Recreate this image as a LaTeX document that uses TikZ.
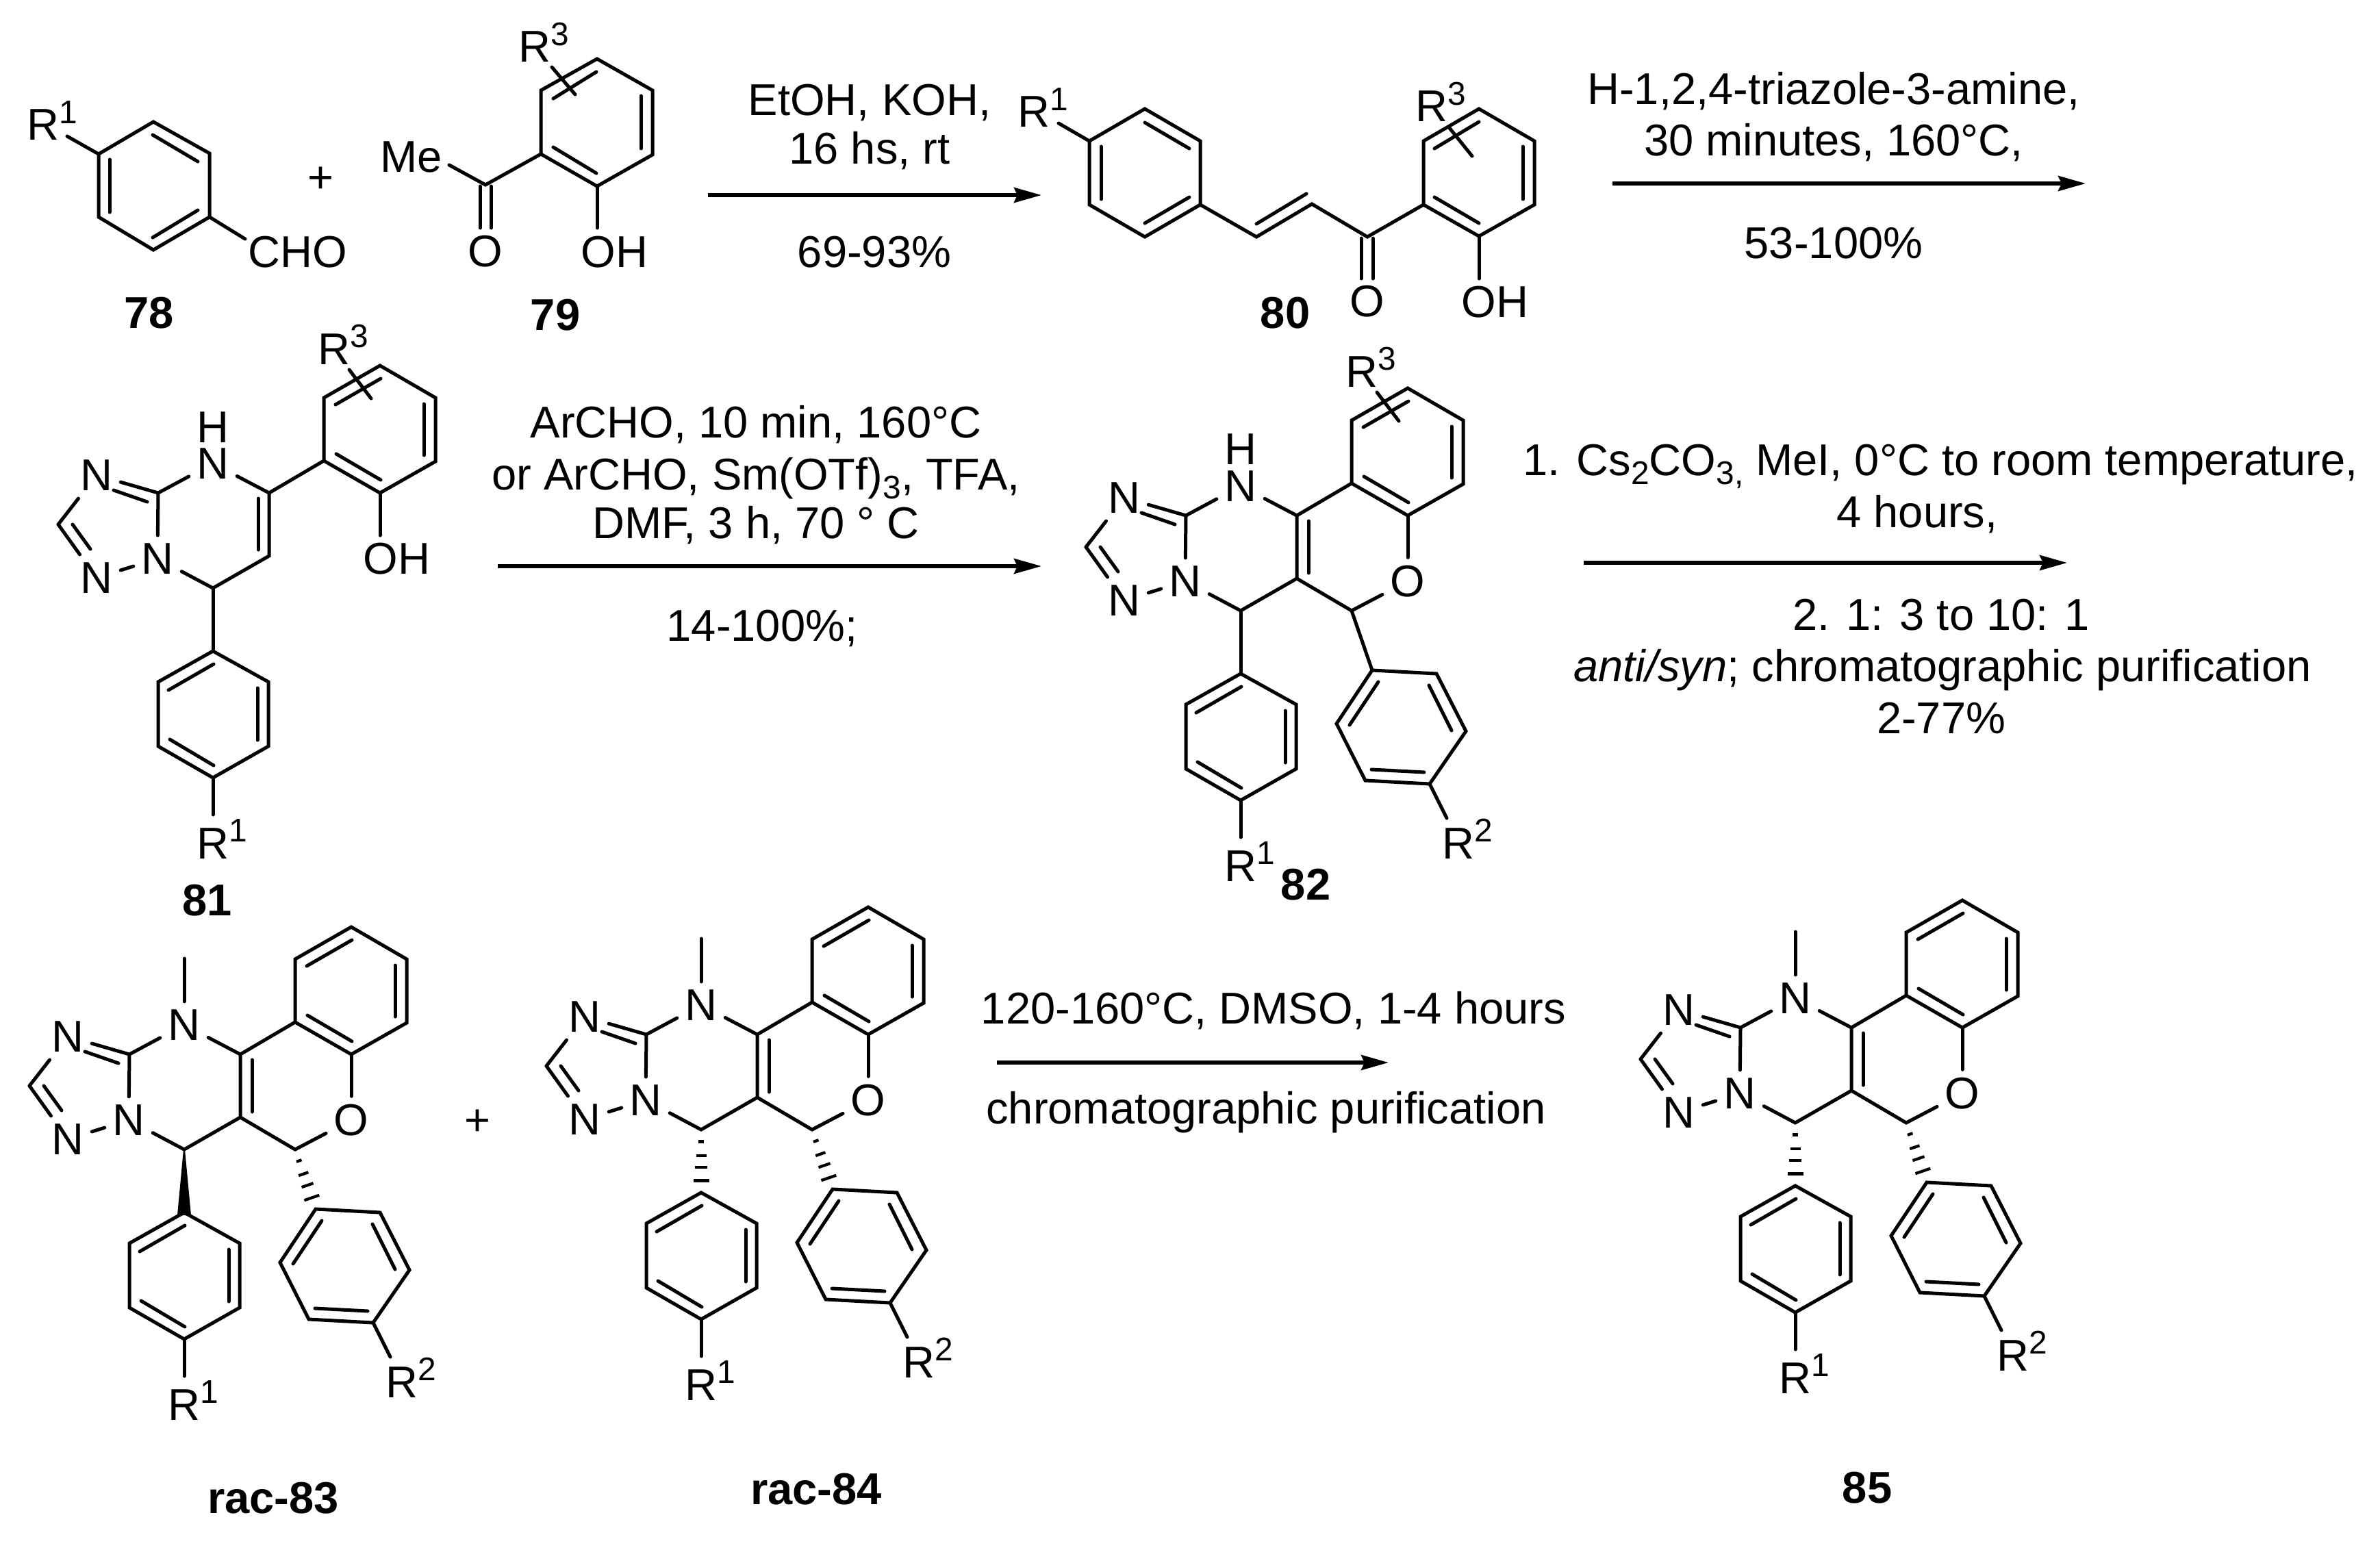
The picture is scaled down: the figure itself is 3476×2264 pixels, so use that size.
\documentclass[tikz,border=0pt]{standalone}
\usepackage{fontspec}
\setmainfont{Liberation Sans}
\usetikzlibrary{arrows.meta,calc}

\newcommand{\Rsup}[1]{R\raisebox{7.1pt}{\fontsize{13.6}{13.6}\selectfont #1}}
\newcommand{\chemsub}[1]{\raisebox{-3.7pt}{\fontsize{13.6}{13.6}\selectfont #1}}

\tikzset{
	bond/.style={line width=0.5mm, line cap=round},
	hashline/.style={line width=0.42mm},
	rxarrow/.style={line width=0.55mm, -{Stealth[length=4mm,width=2.2mm,inset=0.5mm]}},
	atom/.style={inner sep=1.1mm, font=\fontsize{18.5}{22}\selectfont},
	lab/.style={inner sep=0pt, anchor=base west, font=\fontsize{18.5}{22}\selectfont},
	rxtext/.style={inner sep=0pt, anchor=base, font=\fontsize{18.5}{22}\selectfont},
	numlab/.style={inner sep=0pt, font=\fontsize{18.5}{22}\selectfont\bfseries}
}

% Triazole and pyrimidine rings, written at the position of 85
\newcommand{\triazcore}[1]{
	\coordinate (#1c8a) at (2542,1501);
	\coordinate (#1c2) at (2396,1547);
	\coordinate (#1c7) at (2622,1640);
	\coordinate (#1c5) at (2704,1501);
	\coordinate (#1c6) at (2704,1593);
	\node[atom] (#1n1) at (2452,1475) {N};
	\node[atom] (#1n3) at (2452,1625) {N};
	\node[atom] (#1n8) at (2541,1597) {N};
	\node[atom] (#1n4) at (2622,1458) {N};
	\draw[bond] (#1c8a) -- (#1n1);
	\draw[bond] (2477,1497) -- (2526,1514);
	\draw[bond] (#1n1) -- (#1c2);
	\draw[bond] (#1c2) -- (#1n3);
	\draw[bond] (2417,1547) -- (2443,1583);
	\draw[bond] (#1n3) -- (#1n8);
	\draw[bond] (#1n8) -- (#1c8a);
	\draw[bond] (#1c8a) -- (#1n4);
	\draw[bond] (#1n4) -- (#1c5);
	\draw[bond] (#1n8) -- (#1c7);
	\draw[bond] (#1c7) -- (#1c6) -- (#1c5);
}

% Benzo ring
\newcommand{\benzoring}[1]{
	\coordinate (#1b1) at (2784,1454);
	\coordinate (#1b2) at (2866,1501);
	\draw[bond] (#1b1) -- (2784,1362) -- (2866,1315) -- (2947,1362) -- (2947,1455) -- (#1b2) -- cycle;
	\draw[bond] (2801,1372) -- (2867,1334);
	\draw[bond] (2930,1371) -- (2930,1446);
	\draw[bond] (2802,1444) -- (2867,1482);
	\draw[bond] (#1c5) -- (#1b1);
}

% Pyran ring with its oxygen
\newcommand{\pyranpart}[1]{
	\coordinate (#1c9) at (2784,1640);
	\node[atom] (#1ox) at (2866,1597) {O};
	\draw[bond] (#1b2) -- (#1ox);
	\draw[bond] (#1ox) -- (#1c9);
	\draw[bond] (#1c9) -- (#1c6);
	\draw[bond] (2721,1509) -- (2721,1585);
}

% Aryl ring with R1
\newcommand{\arylone}[1]{
	\coordinate (#1p1) at (2622,1732);
	\coordinate (#1p4) at (2622,1917);
	\coordinate (#1r1) at (2622,1971);
	\draw[bond] (#1p1) -- (2703,1777) -- (2703,1871) -- (#1p4) -- (2542,1871) -- (2542,1777) -- cycle;
	\draw[bond] (2557,1789) -- (2623,1751);
	\draw[bond] (2687,1786) -- (2687,1862);
	\draw[bond] (2559,1861) -- (2623,1899);
	\draw[bond] (#1p4) -- (#1r1);
	\node[lab] (#1rone) at (2598,2035) {\Rsup{1}};
}

% Aryl ring with R2
\newcommand{\aryltwo}[1]{
	\coordinate (#1q1) at (2814,1727);
	\coordinate (#1q4) at (2898,1893);
	\coordinate (#1r2) at (2923,1943);
	\draw[bond] (#1q1) -- (2908,1732) -- (2951,1816) -- (#1q4) -- (2804,1888) -- (2762,1805) -- cycle;
	\draw[bond] (2823,1744) -- (2781,1807);
	\draw[bond] (2897,1749) -- (2930,1815);
	\draw[bond] (2813,1872) -- (2890,1876);
	\draw[bond] (#1q4) -- (#1r2);
	\node[lab] (#1rtwo) at (2916,2002) {\Rsup{2}};
}

% R3 on the benzo ring
\newcommand{\rthree}[1]{
	\coordinate (#1r3a) at (2821,1321);
	\coordinate (#1r3b) at (2853,1363);
	\draw[bond] (#1r3a) -- (#1r3b);
	\node[lab] (#1rthree) at (2775,1313) {\Rsup{3}};
}

% Methyl on N and the dashed bond to the second aryl
\newcommand{\methyl}[1]{
	\coordinate (#1me) at (2622,1361);
	\draw[bond] (#1me) -- (#1n4);
}

\newcommand{\hashbond}[2]{
	\foreach \frc/\wid in {0.19/0.4,0.41/0.75,0.6/0.9,0.81/1.15}
		\draw[hashline] ($(#1)!\frc!(#2)!\wid mm!90:(#2)$) -- ($(#1)!\frc!(#2)!\wid mm!-90:(#2)$);
}

\begin{document}
\begin{tikzpicture}[x=0.01cm,y=-0.01cm]
	\useasboundingbox (0,0) rectangle (3476,2264);

	% 78
	\coordinate (a1) at (144,225);
	\coordinate (a2) at (306,317);
	\coordinate (a3) at (98,199);
	\coordinate (a4) at (358,349);
	\draw[bond] (224,178) -- (306,224) -- (a2) -- (224,365) -- (144,317) -- (a1) -- cycle;
	\draw[bond] (160,233) -- (160,310);
	\draw[bond] (223,197) -- (289,236);
	\draw[bond] (289,307) -- (223,347);
	\draw[bond] (a1) -- (a3);
	\draw[bond] (a2) -- (a4);
	\node[lab] (rone78) at (39,205) {\Rsup{1}};
	\node[lab] (cho78) at (362,390) {CHO};
	\node[numlab] (lab78) at (218,457) {78};
	\node[atom] (plusa) at (468,263) {+};

	% 79
	\coordinate (b1) at (790,225);
	\coordinate (b2) at (872,272);
	\coordinate (b3) at (709,270);
	\coordinate (b4) at (656,241);
	\coordinate (b5) at (872,333);
	\coordinate (b6) at (806,98);
	\coordinate (b7) at (840,138);
	\draw[bond] (872,86) -- (953,132) -- (953,226) -- (b2) -- (b1) -- (790,132) -- cycle;
	\draw[bond] (936,140) -- (936,217);
	\draw[bond] (871,105) -- (808,144);
	\draw[bond] (808,215) -- (871,253);
	\draw[bond] (b1) -- (b3) -- (b4);
	\draw[bond] (701,272) -- (701,333);
	\draw[bond] (717,272) -- (717,333);
	\draw[bond] (b2) -- (b5);
	\draw[bond] (b6) -- (b7);
	\node[lab] (me79) at (555,252) {Me};
	\node[atom] (ox79) at (709,367) {O};
	\node[lab] (oh79) at (848,390) {OH};
	\node[lab] (rthree79) at (757,91) {\Rsup{3}};
	\node[numlab] (lab79) at (811,460) {79};

	% first arrow
	\coordinate (arra0) at (1034,285);
	\coordinate (arra1) at (1521,285);
	\draw[rxarrow] (arra0) -- (arra1);
	\node[rxtext] (rxa1) at (1270,169) {EtOH, KOH,};
	\node[rxtext] (rxa2) at (1270,240) {16 hs, rt};
	\node[rxtext] (rxa3) at (1277,391) {69-93\%};

	% 80
	\coordinate (c1) at (1591,206);
	\coordinate (c2) at (1753,299);
	\coordinate (c3) at (1546,180);
	\coordinate (c4) at (1835,346);
	\coordinate (c5) at (1916,298);
	\coordinate (c6) at (1997,346);
	\coordinate (c7) at (2079,299);
	\coordinate (c8) at (2160,345);
	\coordinate (c9) at (2160,407);
	\coordinate (c10) at (2117,187);
	\coordinate (c11) at (2150,228);
	\draw[bond] (1672,159) -- (1753,206) -- (c2) -- (1672,346) -- (1591,299) -- (c1) -- cycle;
	\draw[bond] (1608,214) -- (1608,291);
	\draw[bond] (1672,179) -- (1737,217);
	\draw[bond] (1737,288) -- (1672,326);
	\draw[bond] (c1) -- (c3);
	\draw[bond] (c2) -- (c4) -- (c5) -- (c6) -- (c7);
	\draw[bond] (1835,327) -- (1908,283);
	\draw[bond] (1988,348) -- (1988,407);
	\draw[bond] (2005,348) -- (2005,407);
	\draw[bond] (c7) -- (2079,206) -- (2160,159) -- (2241,206) -- (2241,299) -- (c8) -- cycle;
	\draw[bond] (2095,217) -- (2160,178);
	\draw[bond] (2224,214) -- (2224,291);
	\draw[bond] (2095,288) -- (2160,326);
	\draw[bond] (c8) -- (c9);
	\draw[bond] (c10) -- (c11);
	\node[lab] (rone80) at (1486,186) {\Rsup{1}};
	\node[lab] (rthree80) at (2067,178) {\Rsup{3}};
	\node[atom] (ox80) at (1997,440) {O};
	\node[lab] (oh80) at (2134,463) {OH};
	\node[numlab] (lab80) at (1877,457) {80};

	% second arrow
	\coordinate (arrb0) at (2355,268);
	\coordinate (arrb1) at (3046,268);
	\draw[rxarrow] (arrb0) -- (arrb1);
	\node[rxtext] (rxb1) at (2678,153) {H-1,2,4-triazole-3-amine,};
	\node[rxtext] (rxb2) at (2678,228) {30 minutes, 160°C,};
	\node[rxtext] (rxb3) at (2678,378) {53-100\%};

	% 81
	\begin{scope}[shift={(-2311,-781)}]
		\triazcore{d}
		\benzoring{d}
		\arylone{d}
		\rthree{d}
		\draw[bond] (2688,1509) -- (2688,1584);
		\draw[bond] (dc7) -- (dp1);
		\coordinate (dh) at (2866,1563);
		\draw[bond] (db2) -- (dh);
		\node[atom,inner sep=0pt] (dhy) at (2622,1405) {H};
		\node[lab] (doh) at (2841,1619) {OH};
	\end{scope}
	\node[numlab] (lab81) at (303,1315) {81};

	% third arrow
	\coordinate (arrc0) at (727,827);
	\coordinate (arrc1) at (1521,827);
	\draw[rxarrow] (arrc0) -- (arrc1);
	\node[rxtext] (rxc1) at (1104,639) {ArCHO, 10 min, 160°C};
	\node[rxtext] (rxc2) at (1104,715) {or ArCHO, Sm(OTf)\chemsub{3}, TFA,};
	\node[rxtext] (rxc3) at (1104,786) {DMF, 3 h, 70 ° C};
	\node[rxtext] (rxc4) at (1113,936) {14-100\%;};

	% 82
	\begin{scope}[shift={(-810,-748)}]
		\triazcore{e}
		\benzoring{e}
		\pyranpart{e}
		\arylone{e}
		\aryltwo{e}
		\rthree{e}
		\draw[bond] (ec7) -- (ep1);
		\draw[bond] (ec9) -- (eq1);
		\node[atom,inner sep=0pt] (ehy) at (2622,1404) {H};
	\end{scope}
	\node[numlab] (lab82) at (1907,1292) {82};

	% fourth arrow
	\coordinate (arrd0) at (2313,822);
	\coordinate (arrd1) at (3019,822);
	\draw[rxarrow] (arrd0) -- (arrd1);
	\node[rxtext] (rxd1) at (2834,694) {1. Cs\chemsub{2}CO\chemsub{3,} MeI, 0°C to room temperature,};
	\node[rxtext] (rxd2) at (2800,770) {4 hours,};
	\node[rxtext] (rxd3) at (2835,920) {2. 1: 3 to 10: 1};
	\node[rxtext] (rxd4) at (2837,995) {\textit{anti/syn}; chromatographic purification};
	\node[rxtext] (rxd5) at (2835,1071) {2-77\%};

	% rac-83
	\begin{scope}[shift={(-2353,39)}]
		\triazcore{f}
		\benzoring{f}
		\pyranpart{f}
		\arylone{f}
		\aryltwo{f}
		\methyl{f}
		\fill ($(fc7)+(-1,0)$) -- ($(fp1)+(-10,4)$) -- ($(fp1)+(10,4)$) -- ($(fc7)+(1,0)$) -- cycle;
		\hashbond{fc9}{fq1}
	\end{scope}
	\node[numlab] (lab83) at (399,2188) {rac-83};
	\node[atom] (plusb) at (697,1640) {+};

	% rac-84
	\begin{scope}[shift={(-1598,10)}]
		\triazcore{g}
		\benzoring{g}
		\pyranpart{g}
		\arylone{g}
		\aryltwo{g}
		\methyl{g}
		\hashbond{gc7}{gp1}
		\hashbond{gc9}{gq1}
	\end{scope}
	\node[numlab] (lab84) at (1192,2175) {rac-84};

	% last arrow
	\coordinate (arre0) at (1456,1552);
	\coordinate (arre1) at (2028,1552);
	\draw[rxarrow] (arre0) -- (arre1);
	\node[rxtext] (rxe1) at (1860,1495) {120-160°C, DMSO, 1-4 hours};
	\node[rxtext] (rxe2) at (1849,1641) {chromatographic purification};

	% 85
	\triazcore{h}
	\benzoring{h}
	\pyranpart{h}
	\arylone{h}
	\aryltwo{h}
	\methyl{h}
	\hashbond{hc7}{hp1}
	\hashbond{hc9}{hq1}
	\node[numlab] (lab85) at (2727,2173) {85};
\end{tikzpicture}
\end{document}
